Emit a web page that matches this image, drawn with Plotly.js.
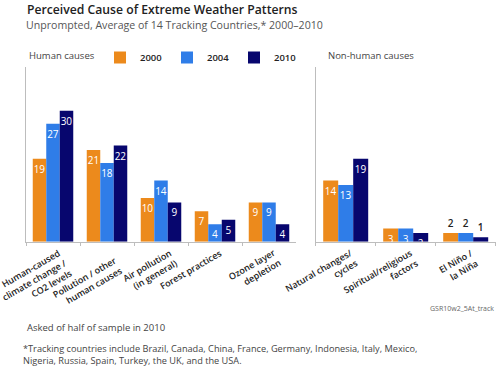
<!DOCTYPE html>
<html>
<head>
<meta charset="utf-8">
<script src="https://cdn.plot.ly/plotly-3.0.1.min.js"></script>
<style>html,body{margin:0;padding:0;background:#fff;}#chart{width:500px;height:371px;}</style>
</head>
<body>
<div id="chart"></div>
<script>
// ---- data ----
var humanCategories = ["Human-caused<br>climate change /<br>CO2 levels", "Pollution / other<br>human causes", "Air pollution<br>(in general)", "Forest practices", "Ozone layer<br>depletion"];
var nonHumanCategories = ["Natural changes/<br>cycles", "Spiritual/religious<br>factors", "El Niño /<br>la Niña"];
var years = ["2000", "2004", "2010"];
var human2000 = [19, 21, 10, 7, 9];
var human2004 = [27, 18, 14, 4, 9];
var human2010 = [30, 22, 9, 5, 4];
var nonHuman2000 = [14, 3, 2];
var nonHuman2004 = [13, 3, 2];
var nonHuman2010 = [19, 2, 1];
var nonHumanLabelPos = ["inside", "inside", "outside"];
var yearColors = ["#EC8A1C", "#2F7DE8", "#07066E"];

var FONT = "Open Sans, Noto Sans, sans-serif";
var humanSeries = [human2000, human2004, human2010];
var nonHumanSeries = [nonHuman2000, nonHuman2004, nonHuman2010];

var traces = [];
humanSeries.forEach(function (vals, i) {
  traces.push({
    type: "bar", name: years[i], x: humanCategories, y: vals,
    xaxis: "x", yaxis: "y",
    marker: {color: yearColors[i]},
    text: vals.map(String), textposition: "inside", insidetextanchor: "end",
    constraintext: "none", textangle: 0,
    insidetextfont: {family: FONT, size: 10, color: "#ffffff"},
    legendgroup: years[i], showlegend: true, hoverinfo: "skip"
  });
});
nonHumanSeries.forEach(function (vals, i) {
  traces.push({
    type: "bar", name: years[i], x: nonHumanCategories, y: vals,
    xaxis: "x2", yaxis: "y2",
    marker: {color: yearColors[i]},
    text: vals.map(String), textposition: nonHumanLabelPos, insidetextanchor: "end",
    constraintext: "none", textangle: 0, cliponaxis: false,
    insidetextfont: {family: FONT, size: 10, color: "#ffffff"},
    outsidetextfont: {family: FONT, size: 10, color: "#222222", weight: 600},
    legendgroup: years[i], showlegend: false, hoverinfo: "skip"
  });
});

var yDomain = [1 - 241.7 / 371, 1 - 67 / 371];
var xAxisCommon = {
  type: "category", showline: true, linecolor: "#bdbdbd", linewidth: 1,
  ticks: "outside", tickson: "boundaries", ticklen: 3, tickcolor: "#bdbdbd",
  showticklabels: false, showgrid: false, zeroline: false, fixedrange: true
};
var yAxisCommon = {
  range: [0, 40], showline: true, linecolor: "#bdbdbd", linewidth: 1,
  showticklabels: false, ticks: "", showgrid: false, zeroline: false, fixedrange: true,
  domain: yDomain
};

// rotated category labels (end of first line placed just right of the category centre)
var LABEL_SIZE = 9, LABEL_ANGLE = -30;
// layout tweaks: a couple of human-cause labels are set slightly apart to clear neighbours
var labelNudge = {x: {1: {dx: 3, dy: 8}, 2: {dx: 4, dy: 0}}};
function categoryLabels(cats, xref) {
  return cats.map(function (c, i) {
    var n = c.split("<br>").length;
    var h = 12.3 + (n - 1) * 1.3 * LABEL_SIZE;
    var nudge = (labelNudge[xref] && labelNudge[xref][i]) || {dx: 0, dy: 0};
    return {
      text: c, x: i, xref: xref, y: 1 - 246 / 371, yref: "paper",
      xanchor: "right", yanchor: "top", align: "right", textangle: LABEL_ANGLE,
      xshift: 3 + h * 0.5 + nudge.dx, yshift: -nudge.dy,
      showarrow: false, borderwidth: 0, borderpad: 0,
      font: {family: FONT, size: LABEL_SIZE, color: "#222", weight: 600}
    };
  });
}

var layout = {
  width: 500, height: 371,
  margin: {l: 0, r: 0, t: 0, b: 0},
  paper_bgcolor: "#fff", plot_bgcolor: "#fff",
  barmode: "group", bargap: 0.25, bargroupgap: 0,
  font: {family: FONT, color: "#333"},
  xaxis: Object.assign({}, xAxisCommon, {domain: [26 / 500, 296 / 500], anchor: "y",
    range: [-0.5, humanCategories.length - 0.5]}),
  yaxis: Object.assign({}, yAxisCommon, {anchor: "x"}),
  xaxis2: Object.assign({}, xAxisCommon, {domain: [315.7 / 500, 495.7 / 500], anchor: "y2",
    range: [-0.5, nonHumanCategories.length - 0.5]}),
  yaxis2: Object.assign({}, yAxisCommon, {anchor: "x2"}),
  showlegend: true,
  legend: {
    orientation: "h", x: 100 / 500, xanchor: "left", y: 1 - 43 / 371, yanchor: "top",
    entrywidth: 22, entrywidthmode: "pixels", itemwidth: 30,
    font: {family: FONT, size: 9.5, color: "#222", weight: 600},
    bgcolor: "rgba(0,0,0,0)", traceorder: "normal", itemclick: false, itemdoubleclick: false
  },
  annotations: [
    {text: "Perceived Cause of Extreme Weather Patterns", xref: "paper", yref: "paper",
     x: 25 / 500, y: 1 - 9.5 / 371, xanchor: "left", yanchor: "middle", showarrow: false,
     font: {family: FONT, size: 12.2, color: "#222", weight: 600}},
    {text: "Unprompted, Average of 14 Tracking Countries,* 2000–2010", xref: "paper", yref: "paper",
     x: 24 / 500, y: 1 - 25 / 371, xanchor: "left", yanchor: "middle", showarrow: false,
     font: {family: FONT, size: 10.6, color: "#555"}},
    {text: "Human causes", xref: "paper", yref: "paper",
     x: 27 / 500, y: 1 - 55.5 / 371, xanchor: "left", yanchor: "middle", showarrow: false,
     font: {family: FONT, size: 9.5, color: "#444"}},
    {text: "Non-human causes", xref: "paper", yref: "paper",
     x: 326 / 500, y: 1 - 56 / 371, xanchor: "left", yanchor: "middle", showarrow: false,
     font: {family: FONT, size: 9.5, color: "#444"}},
    {text: "GSR10w2_5At_track", xref: "paper", yref: "paper",
     x: 496 / 500, y: 1 - 308 / 371, xanchor: "right", yanchor: "middle", showarrow: false,
     font: {family: FONT, size: 7, color: "#666"}},
    {text: "Asked of half of sample in 2010", xref: "paper", yref: "paper",
     x: 25 / 500, y: 1 - 327 / 371, xanchor: "left", yanchor: "middle", showarrow: false,
     font: {family: FONT, size: 9.5, color: "#444"}},
    {text: "*Tracking countries include Brazil, Canada, China, France, Germany, Indonesia, Italy, Mexico,<br>Nigeria, Russia, Spain, Turkey, the UK, and the USA.", xref: "paper", yref: "paper",
     x: 21 / 500, y: 1 - 354.5 / 371, xanchor: "left", yanchor: "middle", align: "left", showarrow: false,
     font: {family: FONT, size: 9.2, color: "#444"}}
  ].concat(categoryLabels(humanCategories, "x"), categoryLabels(nonHumanCategories, "x2"))
};

Plotly.newPlot("chart", traces, layout, {displayModeBar: false, staticPlot: true});
</script>
</body>
</html>
